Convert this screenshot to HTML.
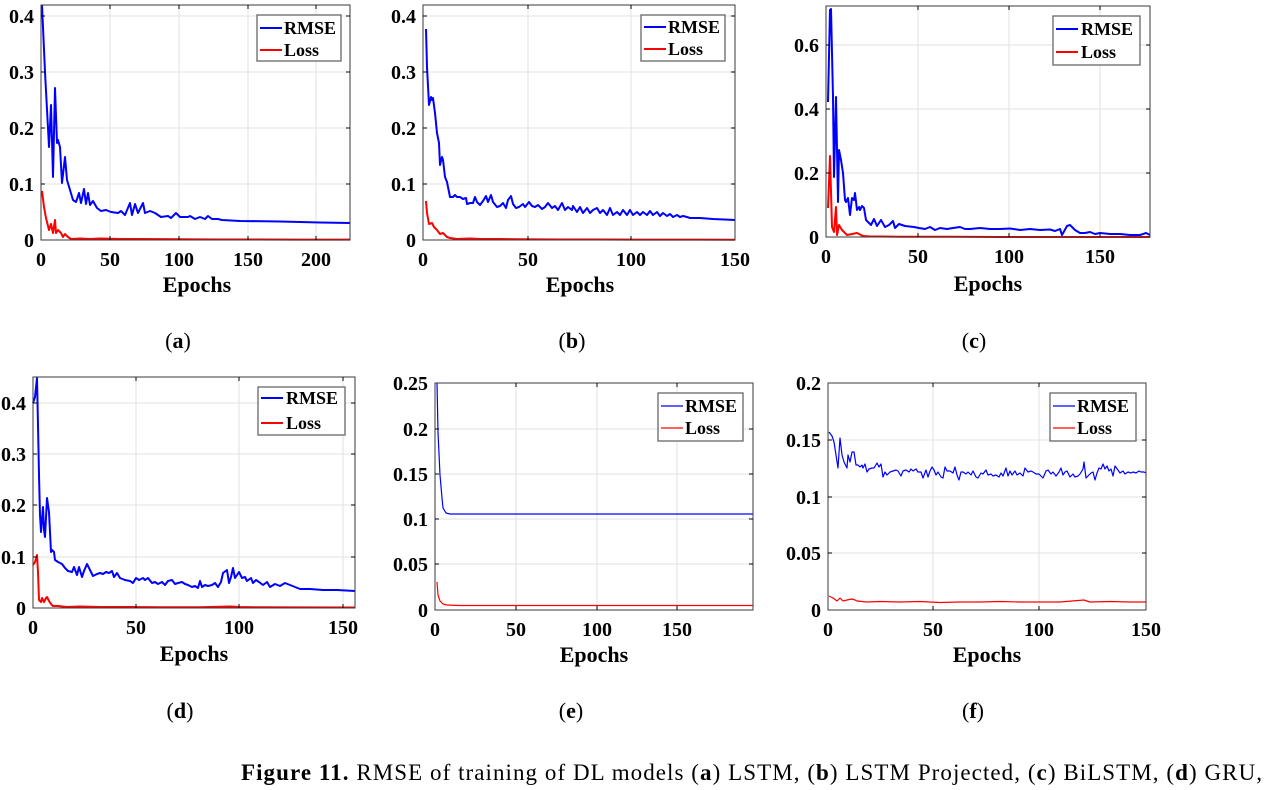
<!DOCTYPE html>
<html><head><meta charset="utf-8"><style>
html,body{margin:0;padding:0;background:#fff;}
svg{display:block;}
.tk{font-family:"Liberation Serif",serif;font-weight:bold;font-size:20px;fill:#000;}
.ep{font-family:"Liberation Serif",serif;font-weight:bold;font-size:22px;fill:#000;}
.lg{font-family:"Liberation Serif",serif;font-weight:bold;font-size:18px;fill:#000;}
.sc{font-family:"Liberation Serif",serif;font-size:22px;fill:#000;}
.cap{font-family:"Liberation Serif",serif;font-size:23px;fill:#000;}
.grid{stroke:#e2e2e2;stroke-width:1;fill:none;}
.box{stroke:#3a3a3a;stroke-width:1;fill:none;}
.tick{stroke:#000;stroke-width:1;}
.b{stroke:#0000ff;stroke-width:2;fill:none;stroke-linejoin:round;}
.r{stroke:#ff0000;stroke-width:2;fill:none;stroke-linejoin:round;}
.bt{stroke:#0000ff;stroke-width:1.2;fill:none;stroke-linejoin:round;}
.rt{stroke:#ff0000;stroke-width:1.2;fill:none;stroke-linejoin:round;}
.lbox{fill:#fff;stroke:#666;stroke-width:1.3;}
</style></head><body>
<svg width="1268" height="790" viewBox="0 0 1268 790" xmlns="http://www.w3.org/2000/svg">

<!-- ================= Panel a ================= -->
<g>
<path class="grid" d="M110 5V240M179 5V240M248 5V240M316 5V240M41 184H350M41 128H350M41 72H350M41 16H350"/>
<polyline class="r" points="42,191 44,207 46,218 49,230 51,224 53,233 55,220 56,233 58,230 61,233 63,237 65,234 68,237 71,239 80,238.5 90,239 100,238.5 120,239 140,239 180,239.3 220,239.5 260,239.5 300,239.6 350,239.6"/>
<polyline class="b" points="42,5 45,72 49,147 51,105 53,177 55,88 57,143 58,140 60,147 62,183 65,157 67,180 70,190 73,200 76,202 79,193 81,203 84,189 86,204 88,193 90,205 93,201 97,208 101,211 106,210 111,212 118,213 121,211 125,215 130,203 132,215 135,204 138,213 143,203 145,213 150,211 155,213 161,217 168,216 171,218 176,213 180,217 188,217 190,216 195,219 200,217 205,219 208,216 212,219 218,219 222,220 240,221 280,221.5 320,222.5 350,223"/>
<rect class="box" x="41" y="5" width="309" height="235"/>
<path class="tick" d="M41 184h4M41 128h4M41 72h4M41 16h4M350 184h-4M350 128h-4M350 72h-4M350 16h-4M110 240v-4M179 240v-4M248 240v-4M316 240v-4M110 5v4M179 5v4M248 5v4M316 5v4"/>
<g class="tk" text-anchor="end"><text x="34" y="247">0</text><text x="34" y="191">0.1</text><text x="34" y="135">0.2</text><text x="34" y="79">0.3</text><text x="34" y="23">0.4</text></g>
<g class="tk" text-anchor="middle"><text x="41" y="266">0</text><text x="110" y="266">50</text><text x="179" y="266">100</text><text x="248" y="266">150</text><text x="316" y="266">200</text></g>
<rect class="lbox" x="257" y="15" width="84" height="46"/>
<line x1="260" y1="28" x2="282" y2="28" stroke="#0000ff" stroke-width="2"/>
<line x1="260" y1="50" x2="282" y2="50" stroke="#ff0000" stroke-width="2"/>
<text class="lg" x="284" y="34">RMSE</text><text class="lg" x="284" y="56">Loss</text>
<text class="ep" x="197" y="292" text-anchor="middle">Epochs</text>
<text class="sc" x="178" y="348" text-anchor="middle">(<tspan font-weight="bold">a</tspan>)</text>
</g>

<!-- ================= Panel b ================= -->
<g>
<path class="grid" d="M528 5V240M631 5V240M423 184H735M423 128H735M423 72H735M423 16H735"/>
<polyline class="r" points="426,201 427,213 429,224 432,223 434,227 437,230 440,234 443,233 447,237 450,238 457,239 470,238.5 480,239 500,239 520,239.3 560,239.5 600,239.5 650,239.6 700,239.6 735,239.7"/>
<polyline class="b" points="426,29 427,67 429,105 431,97 432,100 433,98 435,113 437,133 439,143 440,165 442,157 443,160 445,177 447,182 450,197 453,197 455,195 457,197 460,197 463,199 466,198 467,204 470,203 473,203 475,197 477,202 480,205 483,201 486,196 488,202 491,195 493,202 497,207 500,206 503,203 506,208 508,200 511,196 513,204 516,208 519,207 523,204 525,207 529,202 532,206 535,207 538,205 542,209 545,207 548,203 552,208 555,206 558,210 562,203 565,210 568,207 572,210 573,206 577,212 580,207 583,213 587,208 590,213 593,210 597,208 600,213 603,210 607,215 610,208 613,215 617,212 620,215 623,210 627,215 630,210 633,215 637,212 640,215 643,212 647,215 650,211 653,215 657,212 660,216 663,213 667,216 670,214 673,217 677,215 680,217 683,216 687,217 690,218 700,218 713,219 735,220"/>
<rect class="box" x="423" y="5" width="312" height="235"/>
<path class="tick" d="M423 184h4M423 128h4M423 72h4M423 16h4M735 184h-4M735 128h-4M735 72h-4M735 16h-4M528 240v-4M631 240v-4M528 5v4M631 5v4"/>
<g class="tk" text-anchor="end"><text x="416" y="247">0</text><text x="416" y="191">0.1</text><text x="416" y="135">0.2</text><text x="416" y="79">0.3</text><text x="416" y="23">0.4</text></g>
<g class="tk" text-anchor="middle"><text x="423" y="266">0</text><text x="528" y="266">50</text><text x="631" y="266">100</text><text x="735" y="266">150</text></g>
<rect class="lbox" x="641" y="15" width="84" height="46"/>
<line x1="644" y1="27" x2="666" y2="27" stroke="#0000ff" stroke-width="2"/>
<line x1="644" y1="49" x2="666" y2="49" stroke="#ff0000" stroke-width="2"/>
<text class="lg" x="668" y="33">RMSE</text><text class="lg" x="668" y="55">Loss</text>
<text class="ep" x="580" y="292" text-anchor="middle">Epochs</text>
<text class="sc" x="572" y="348" text-anchor="middle">(<tspan font-weight="bold">b</tspan>)</text>
</g>

<!-- ================= Panel c ================= -->
<g>
<path class="grid" d="M918 6V237M1009 6V237M1100 6V237M826 173H1150M826 109H1150M826 45H1150"/>
<polyline class="r" points="828,208 830,156 832,227 834,232 836,207 837,235 839,225 842,230 847,235 852,234 857,233 863,236 870,236.5 880,236.5 900,236.8 950,236.8 1000,237 1050,237 1100,237 1150,237"/>
<polyline class="b" points="828,102 830,10 831,9 833,97 834,177 836,97 838,202 839,150 841,160 843,173 845,200 846,202 848,198 850,215 852,198 854,200 855,193 857,210 859,207 860,210 862,206 864,208 866,220 869,223 871,225 874,219 877,226 881,220 885,227 889,225 893,221 895,228 899,224 905,226 914,227 919,228 925,229 930,227 935,230 940,228 947,229 953,228 960,227 965,229 970,229 980,228 990,229 1000,229 1010,228.5 1020,230 1030,229 1040,230 1050,229.5 1055,231 1060,229 1062,235 1067,226 1070,225 1075,230 1080,233 1085,233 1090,232 1095,234 1100,233 1110,234 1120,234 1130,235 1140,235 1146,233 1150,235"/>
<rect class="box" x="826" y="6" width="324" height="231"/>
<path class="tick" d="M826 173h4M826 109h4M826 45h4M1150 173h-4M1150 109h-4M1150 45h-4M918 237v-4M1009 237v-4M1100 237v-4M918 6v4M1009 6v4M1100 6v4"/>
<g class="tk" text-anchor="end"><text x="819" y="244">0</text><text x="819" y="180">0.2</text><text x="819" y="116">0.4</text><text x="819" y="52">0.6</text></g>
<g class="tk" text-anchor="middle"><text x="826" y="263">0</text><text x="918" y="263">50</text><text x="1009" y="263">100</text><text x="1100" y="263">150</text></g>
<rect class="lbox" x="1053" y="16" width="87" height="49"/>
<line x1="1056" y1="29" x2="1078" y2="29" stroke="#0000ff" stroke-width="2"/>
<line x1="1056" y1="52" x2="1078" y2="52" stroke="#ff0000" stroke-width="2"/>
<text class="lg" x="1081" y="35">RMSE</text><text class="lg" x="1081" y="58">Loss</text>
<text class="ep" x="988" y="291" text-anchor="middle">Epochs</text>
<text class="sc" x="974" y="348" text-anchor="middle">(<tspan font-weight="bold">c</tspan>)</text>
</g>

<!-- ================= Panel d ================= -->
<g>
<path class="grid" d="M136 377V608M239 377V608M343 377V608M33 557H355M33 505H355M33 454H355M33 403H355"/>
<polyline class="r" points="33,565 35,562 37,555 38,572 39,600 41,602 42,598 44,602 46,598 47,597 49,601 51,604 53,606 58,606 67,607 80,606.5 100,607 130,607 160,607.2 200,607.2 230,606.5 240,607 260,607.3 300,607.4 355,607.5"/>
<polyline class="b" points="33,403 35,397 37,378 38,425 39,475 40,515 41,532 43,507 44,530 45,537 47,498 49,512 51,552 52,550 54,552 55,560 58,562 62,564 65,568 68,571 72,572 74,567 77,575 79,567 82,577 84,571 87,564 89,568 93,576 97,574 100,573 103,574 106,572 109,573 112,571 114,577 117,573 120,578 125,580 130,581 133,583 136,578 139,580 143,578 145,580 148,578 152,583 155,582 158,584 162,582 165,585 168,581 172,580 175,584 178,583 182,582 185,584 188,585 192,587 195,586 198,588 200,581 202,587 205,585 208,586 212,585 215,583 218,587 221,582 223,573 227,570 229,583 231,577 233,568 235,578 239,572 242,578 245,577 247,581 251,578 253,583 256,580 259,582 263,585 267,582 270,587 275,584 280,586 285,583 290,585 295,587 300,589 310,589 323,590 337,590 355,591"/>
<rect class="box" x="33" y="377" width="322" height="231"/>
<path class="tick" d="M33 557h4M33 505h4M33 454h4M33 403h4M355 557h-4M355 505h-4M355 454h-4M355 403h-4M136 608v-4M239 608v-4M343 608v-4M136 377v4M239 377v4M343 377v4"/>
<g class="tk" text-anchor="end"><text x="26" y="615">0</text><text x="26" y="564">0.1</text><text x="26" y="512">0.2</text><text x="26" y="461">0.3</text><text x="26" y="410">0.4</text></g>
<g class="tk" text-anchor="middle"><text x="33" y="634">0</text><text x="136" y="634">50</text><text x="239" y="634">100</text><text x="343" y="634">150</text></g>
<rect class="lbox" x="258" y="387" width="87" height="48"/>
<line x1="261" y1="398" x2="283" y2="398" stroke="#0000ff" stroke-width="2"/>
<line x1="261" y1="423" x2="283" y2="423" stroke="#ff0000" stroke-width="2"/>
<text class="lg" x="286" y="404">RMSE</text><text class="lg" x="286" y="429">Loss</text>
<text class="ep" x="194" y="661" text-anchor="middle">Epochs</text>
<text class="sc" x="180" y="718" text-anchor="middle">(<tspan font-weight="bold">d</tspan>)</text>
</g>

<!-- ================= Panel e ================= -->
<g>
<path class="grid" d="M516 383V610M597 383V610M677 383V610M435 564H753M435 519H753M435 474H753M435 429H753"/>
<polyline class="rt" points="437,582 438,595 440,601 443,604 447,605 460,605.5 753,605.5"/>
<polyline class="bt" points="437,383 438,432 440,475 442,498 443,508 446,513 450,514 753,514"/>
<rect class="box" x="435" y="383" width="318" height="227"/>
<path class="tick" d="M435 564h4M435 519h4M435 474h4M435 429h4M753 564h-4M753 519h-4M753 474h-4M753 429h-4M516 610v-4M597 610v-4M677 610v-4M516 383v4M597 383v4M677 383v4"/>
<g class="tk" text-anchor="end"><text x="428" y="617">0</text><text x="428" y="571">0.05</text><text x="428" y="526">0.1</text><text x="428" y="481">0.15</text><text x="428" y="436">0.2</text><text x="428" y="390">0.25</text></g>
<g class="tk" text-anchor="middle"><text x="435" y="636">0</text><text x="516" y="636">50</text><text x="597" y="636">100</text><text x="677" y="636">150</text></g>
<rect class="lbox" x="658" y="393" width="85" height="48"/>
<line x1="661" y1="406" x2="683" y2="406" stroke="#0000ff" stroke-width="1.2"/>
<line x1="661" y1="428" x2="683" y2="428" stroke="#ff0000" stroke-width="1.2"/>
<text class="lg" x="685" y="412">RMSE</text><text class="lg" x="685" y="434">Loss</text>
<text class="ep" x="594" y="662" text-anchor="middle">Epochs</text>
<text class="sc" x="571" y="718" text-anchor="middle">(<tspan font-weight="bold">e</tspan>)</text>
</g>

<!-- ================= Panel f ================= -->
<g>
<path class="grid" d="M933 383V610M1039 383V610M828 553H1146M828 497H1146M828 440H1146"/>
<polyline class="rt" points="829,596 833,598 837,601 840,598 843,601 847,600 852,599 855,600 857,601 867,602 880,601.5 900,602 920,601.5 940,602.5 960,602 980,602 1000,601.5 1020,602 1040,602 1060,602 1084,600 1090,602 1110,601.5 1130,602 1146,602"/>
<polyline class="bt" points="829,432 832,436 834,442 836,455 838,468 840,438 842,455 844,462 847,468 848,455 850,462 852,452 854,452 856,465 858,465 860,467 862,465 863,468 865,464 867,472 869,469 872,468 874,468 877,463 879,467 881,464 883,477 885,472 887,475 890,472 893,471 896,470 898,471 901,476 903,471 906,470 909,472 911,469 913,471 916,469 918,472 921,472 923,478 926,470 928,477 930,471 932,467 934,470 936,475 938,472 941,477 943,478 945,467 947,471 950,471 953,473 955,467 957,475 959,480 961,472 963,472 966,474 968,472 971,475 973,471 976,477 978,478 981,473 983,474 986,470 988,475 991,474 993,476 996,475 999,477 1001,473 1003,476 1006,468 1008,476 1010,471 1012,475 1015,471 1017,475 1020,473 1023,476 1025,468 1028,472 1031,471 1033,472 1036,474 1039,474 1041,476 1043,478 1046,471 1048,470 1051,474 1053,472 1056,476 1059,472 1061,468 1063,475 1065,472 1067,471 1070,477 1073,474 1075,477 1078,476 1080,474 1083,469 1084,462 1086,478 1088,476 1091,473 1093,472 1095,480 1097,473 1099,468 1101,469 1103,464 1105,469 1107,466 1109,471 1111,469 1113,476 1115,466 1118,470 1120,473 1123,471 1125,474 1128,472 1131,473 1133,472 1136,473 1139,471 1141,472 1144,472 1146,473"/>
<rect class="box" x="828" y="383" width="318" height="227"/>
<path class="tick" d="M828 553h4M828 497h4M828 440h4M1146 553h-4M1146 497h-4M1146 440h-4M933 610v-4M1039 610v-4M933 383v4M1039 383v4"/>
<g class="tk" text-anchor="end"><text x="821" y="617">0</text><text x="821" y="560">0.05</text><text x="821" y="504">0.1</text><text x="821" y="447">0.15</text><text x="821" y="390">0.2</text></g>
<g class="tk" text-anchor="middle"><text x="828" y="636">0</text><text x="933" y="636">50</text><text x="1039" y="636">100</text><text x="1146" y="636">150</text></g>
<rect class="lbox" x="1050" y="393" width="86" height="48"/>
<line x1="1053" y1="406" x2="1075" y2="406" stroke="#0000ff" stroke-width="1.2"/>
<line x1="1053" y1="428" x2="1075" y2="428" stroke="#ff0000" stroke-width="1.2"/>
<text class="lg" x="1077" y="412">RMSE</text><text class="lg" x="1077" y="434">Loss</text>
<text class="ep" x="987" y="662" text-anchor="middle">Epochs</text>
<text class="sc" x="973" y="718" text-anchor="middle">(<tspan font-weight="bold">f</tspan>)</text>
</g>

<!-- ================= Caption ================= -->
<text class="cap" x="241" y="780" textLength="1021" lengthAdjust="spacing"><tspan font-weight="bold">Figure 11.</tspan> RMSE of training of DL models (<tspan font-weight="bold">a</tspan>) LSTM, (<tspan font-weight="bold">b</tspan>) LSTM Projected, (<tspan font-weight="bold">c</tspan>) BiLSTM, (<tspan font-weight="bold">d</tspan>) GRU,</text>

</svg>
</body></html>
